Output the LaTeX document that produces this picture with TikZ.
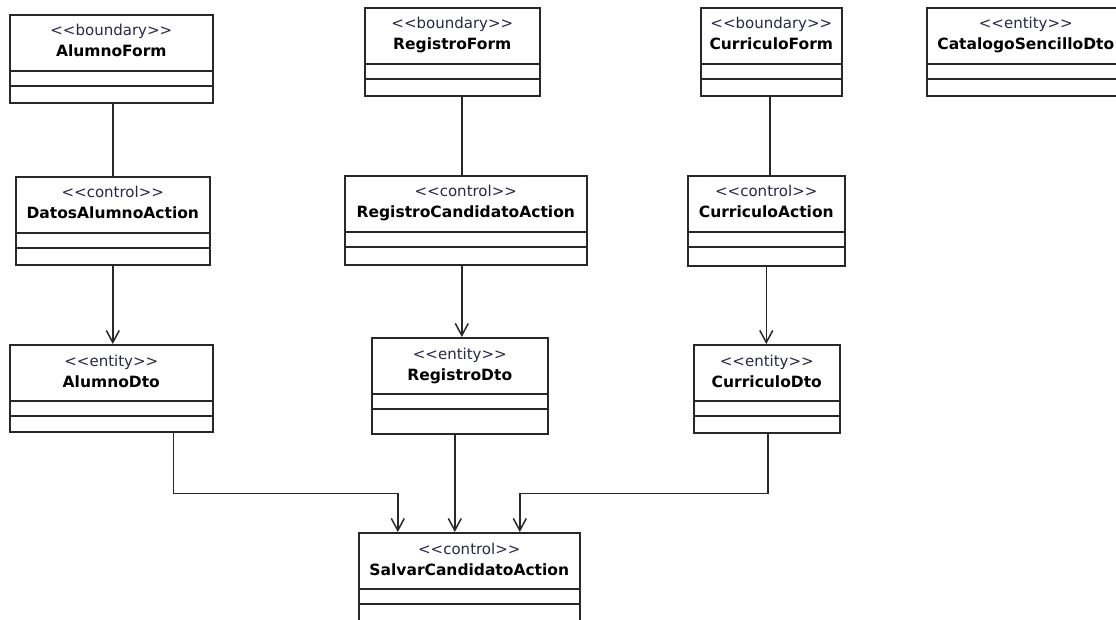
\documentclass[tikz,border=0pt]{standalone}
\usepackage{fontspec}
\setmainfont{DejaVu Sans}[Ligatures=TeXOff]
\usepackage{xcolor}
\usetikzlibrary{arrows.meta}

\definecolor{stereocol}{RGB}{40,40,72}
\definecolor{linecol}{RGB}{40,40,40}

\newcommand{\umlclass}[7]{%
    \node[classbox, minimum width=#4pt, minimum height=#5pt] (#1) at (#2,#3) {};
    \node[stereo] at ([yshift=-22pt]#1.north) {<<#6>>};
    \node[cname] at ([yshift=-43pt]#1.north) {#7};
    \draw[classline] ([yshift=-57pt]#1.north west) -- ([yshift=-57pt]#1.north east);
    \draw[classline] ([yshift=-72pt]#1.north west) -- ([yshift=-72pt]#1.north east);
}

\begin{document}
\begin{tikzpicture}[x=1pt, y=-1pt,
                    classbox/.style={draw=linecol, line width=1.6pt, fill=white, anchor=north west, inner sep=0pt},
                    classline/.style={linecol, line width=1.6pt},
                    stereo/.style={anchor=base, inner sep=0pt, font=\fontsize{15}{18}\selectfont, text=stereocol},
                    cname/.style={anchor=base, inner sep=0pt, font=\fontsize{15.5}{18}\selectfont\bfseries, text=black},
                    link/.style={linecol, line width=1.5pt},
                    dep/.style={link, -{Straight Barb[length=12pt, width=13pt]}}
                   ]

    \useasboundingbox (0,0) rectangle (1116,620);
    \clip (0,0) rectangle (1116,620);

    \umlclass{aform}{9}{14}{203}{88}{boundary}{AlumnoForm}
    \umlclass{datos}{15}{176}{194}{88}{control}{DatosAlumnoAction}
    \umlclass{adto}{9}{344}{203}{87}{entity}{AlumnoDto}

    \umlclass{rform}{364}{7}{175}{88}{boundary}{RegistroForm}
    \umlclass{rcand}{344}{175}{242}{89}{control}{RegistroCandidatoAction}
    \umlclass{rdto}{371}{337}{176}{96}{entity}{RegistroDto}

    \umlclass{cform}{700}{7}{141}{88}{boundary}{CurriculoForm}
    \umlclass{caction}{687}{175}{157}{90}{control}{CurriculoAction}
    \umlclass{cdto}{693}{344}{146}{88}{entity}{CurriculoDto}

    \umlclass{catalogo}{926}{7}{198}{88}{entity}{CatalogoSencilloDto}

    \umlclass{salvar}{358}{532}{221}{88}{control}{SalvarCandidatoAction}

    \draw[link] (datos.north |- aform.south) -- (datos.north);
    \draw[dep] (datos.south) -- (datos.south |- adto.north);

    \draw[link] ([xshift=-4pt]rcand.north |- rform.south) -- ([xshift=-4pt]rcand.north);
    \draw[dep] ([xshift=-4pt]rcand.south) -- ([xshift=-4pt]rcand.south |- rdto.north);

    \draw[link] ([xshift=-1.5pt]cform.south) -- ([xshift=-1.5pt]cform.south |- caction.north);
    \draw[dep] (caction.south) -- (caction.south |- cdto.north);

    \draw[dep] ([xshift=62pt]adto.south) -- ++(0,61) -| ([xshift=-71.5pt]salvar.north);
    \draw[dep] ([xshift=-14.5pt]salvar.north |- rdto.south) -- ([xshift=-14.5pt]salvar.north);
    \draw[dep] ([xshift=1pt]cdto.south) -- ++(0,60) -| ([xshift=50.5pt]salvar.north);

\end{tikzpicture}
\end{document}
